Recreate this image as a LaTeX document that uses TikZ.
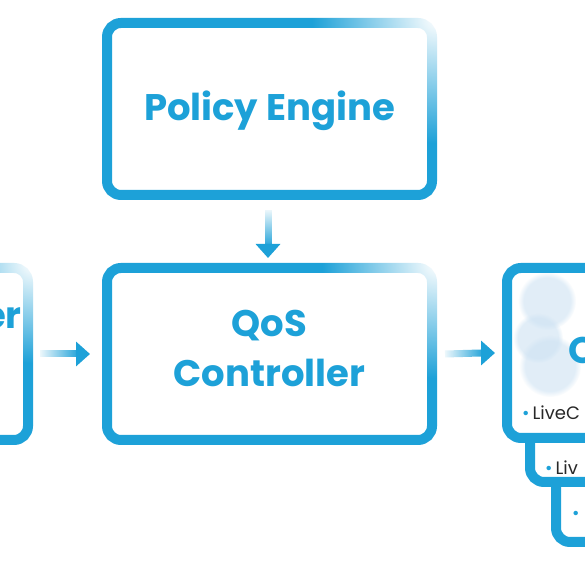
\documentclass[tikz,border=0pt]{standalone}
\usepackage{fontspec}
\setmainfont{Poppins}
\usetikzlibrary{arrows.meta,fadings,calc}
\definecolor{qblue}{RGB}{29,161,216}
\definecolor{bubble}{RGB}{205,226,243}
\definecolor{txtdark}{RGB}{40,40,40}
\tikzfading[name=cornerfade, inner color=transparent!0, outer color=transparent!100]
\tikzfading[name=tailfadeh, left color=transparent!100, right color=transparent!0]
\tikzfading[name=tailfadev, top color=transparent!100, bottom color=transparent!0]
\begin{document}
\begin{tikzpicture}[x=1pt,y=1pt,
  box/.style={draw=qblue, line width=10pt, rounded corners=14pt, fill=white, inner sep=0pt},
  bigtxt/.style={text=qblue, font=\fontsize{37}{50}\selectfont\bfseries, align=center, inner sep=0pt},
  smalltxt/.style={text=txtdark, font=\fontsize{18}{22}\selectfont, inner sep=0pt},
  shaft/.style={draw=qblue, line width=7pt},
  head/.style={draw=qblue, line width=7pt, -{Triangle[width=24pt,length=14pt]}},
  fadecorner/.style={fill=white, path fading=cornerfade, fit fading=true},
  bub/.style={fill=bubble, fill opacity=0.6, path fading=circle with fuzzy edge 20 percent, fit fading=true}]
\useasboundingbox (0,0) rectangle (585,585);
\fill[white] (0,0) rectangle (585,585);
\clip (0,0) rectangle (585,585);
% boxes
\node[box, minimum width=325pt, minimum height=172pt] (policy) at (269.5,476) {};
\node[box, minimum width=325pt, minimum height=172pt] (qos) at (269.5,231) {};
\node[box, minimum width=256pt, minimum height=172pt] (left) at (-100,231) {};
\node[box, minimum width=200pt, minimum height=82pt] (third) at (656,84) {};
\node[box, minimum width=200pt, minimum height=62pt] (second) at (630,134) {};
\node[box, minimum width=200pt, minimum height=170pt] (rmain) at (607,232) {};
% corner fades, each kept inside its own box
\begin{scope}
  \clip ($(policy.south west)+(-1,-1)$) rectangle ($(policy.north east)+(1,1)$);
  \fill[fadecorner] (policy.north east) circle (125pt);
\end{scope}
\begin{scope}
  \clip ($(qos.south west)+(-1,-1)$) rectangle ($(qos.north east)+(1,1)$);
  \fill[fadecorner] (qos.north east) circle (115pt);
\end{scope}
\begin{scope}
  \clip ($(left.south west)+(-1,-1)$) rectangle ($(left.north east)+(1,1)$);
  \fill[fadecorner] (left.north east) circle (100pt);
\end{scope}
% bubbles
\fill[bub] (547,284) circle (29pt);
\fill[bub] (538,247) circle (25pt);
\fill[bub] (550,219) circle (31pt);
% texts
\node[bigtxt] (policytxt) at (269.5,474) {Policy Engine};
\node[bigtxt] (qostxt) at (269.5,237) {QoS\\Controller};
\node[bigtxt, anchor=east] (lefttxt) at (22,267) {er};
\node[bigtxt, anchor=west] (rtxt) at (568,232) {Q};
\node[smalltxt, anchor=west] (item1) at (522,172) {\textcolor{qblue}{•}\,LiveC};
\node[smalltxt, anchor=west] (item2) at (545,117) {\textcolor{qblue}{•}\,Liv};
\node[smalltxt, anchor=west] (item3) at (572,70) {\textcolor{qblue}{•}};
% arrows
\draw[shaft, path fading=tailfadeh] ($(left.east)+(7,0)$) coordinate (a1) -- ($(qos.west)+(-26,0)$) coordinate (a2);
\draw[head] (a2) -- ($(qos.west)+(-12,0)$);
\draw[shaft, path fading=tailfadeh] ($(qos.east)+(8,0)$) coordinate (b1) -- ($(rmain.west)+(-21,0)$) coordinate (b2);
\draw[head] (b2) -- ($(rmain.west)+(-7,0)$);
\draw[shaft, path fading=tailfadev] ($(policy.south)+(-1.5,-10)$) coordinate (c1) -- ($(qos.north)+(-1.5,19)$) coordinate (c2);
\draw[head] (c2) -- ($(qos.north)+(-1.5,5)$);
\end{tikzpicture}
\end{document}
